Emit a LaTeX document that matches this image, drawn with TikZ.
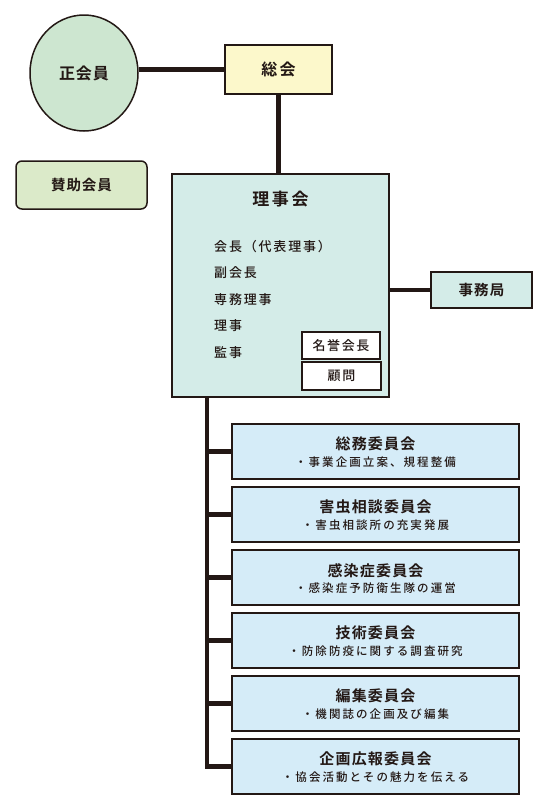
\documentclass[tikz,border=0pt]{standalone}
\usepackage{fontspec}
\setmainfont{Noto Sans CJK JP}[BoldFont={Noto Sans CJK JP Bold}]
\newfontfamily\jpmed{Noto Sans CJK JP Medium}
\usetikzlibrary{shapes.geometric}
\newcommand{\jt}[3]{\fontsize{#1}{#1}\selectfont\addfontfeatures{LetterSpace=#2}#3}
\definecolor{ink}{HTML}{231815}
\definecolor{ellgreen}{HTML}{CDE6D0}
\definecolor{yel}{HTML}{FCF8CB}
\definecolor{sgreen}{HTML}{DBEAC9}
\definecolor{teal}{HTML}{D4ECE8}
\definecolor{cblue}{HTML}{D5ECF8}
\tikzset{
  box/.style={draw=ink, line width=1.5pt, inner sep=0pt, text=ink},
  conn/.style={draw=ink, line width=4.5pt},
  trunk/.style={draw=ink, line width=4.5pt},
  cbox/.style={box, fill=cblue, minimum width=287pt, minimum height=55pt},
  ctitle/.style={inner sep=0pt, text=ink, font=\bfseries},
  csub/.style={inner sep=0pt, text=ink, font=\jpmed},
  mem/.style={inner sep=0pt, anchor=west, text=ink, font=\jpmed},
}
\begin{document}
\begin{tikzpicture}[x=1pt,y=-1pt]
\useasboundingbox (0,0) rectangle (550,806);
% top
\node[box, ellipse, fill=ellgreen, minimum width=108pt, minimum height=116pt, font=\bfseries] (seikai) at (84,73) {\jt{16}{5}{正会員}};
\node[box, fill=yel, minimum width=107pt, minimum height=49pt, font=\bfseries] (soukai) at (278.5,69.5) {\jt{16}{15}{総会}};
\node[box, fill=sgreen, rounded corners=6pt, minimum width=131pt, minimum height=48pt, font=\bfseries] (sanjo) at (81.5,185) {\jt{14.5}{6}{賛助会員}};
\node[box, fill=teal, minimum width=217pt, minimum height=223pt] (riji) at (280.5,285.5) {};
\node[ctitle] (rijit) at ([yshift=-26pt]riji.north) {\jt{17}{16}{理事会}};
\node[mem] (m1) at (214,247) {\jt{13}{14}{会長（代表理事）}};
\node[mem] (m2) at (214,273) {\jt{13}{14}{副会長}};
\node[mem] (m3) at (214,300) {\jt{13}{14}{専務理事}};
\node[mem] (m4) at (214,326) {\jt{13}{14}{理事}};
\node[mem] (m5) at (214,353) {\jt{13}{14}{監事}};
\node[box, fill=white, minimum width=78pt, minimum height=27pt, font=\jpmed] (meiyo) at (341,345.5) {\jt{13}{12}{名誉会長}};
\node[box, fill=white, minimum width=79pt, minimum height=28pt, font=\jpmed] (komon) at (341.5,376) {\jt{13}{12}{顧問}};
\node[box, fill=teal, minimum width=101pt, minimum height=36pt, font=\bfseries] (jimu) at (481.5,290) {\jt{14.5}{7}{事務局}};
% connectors top
\draw[conn] (soukai.west) -- (seikai.east |- soukai.west);
\draw[conn] (soukai.south) -- (soukai.south |- riji.north);
\draw[conn] (jimu.west) -- (riji.east |- jimu.west);
% committees
\node[cbox] (c1) at (375.5,451.5) {};
\node[cbox] (c2) at (375.5,514.5) {};
\node[cbox] (c3) at (375.5,577.5) {};
\node[cbox] (c4) at (375.5,640.5) {};
\node[cbox] (c5) at (375.5,703.5) {};
\node[cbox] (c6) at (375.5,766.5) {};
\foreach \c/\t/\s in {c1/総務委員会/・事業企画立案、規程整備,
                      c2/害虫相談委員会/・害虫相談所の充実発展,
                      c3/感染症委員会/・感染症予防衛生隊の運営,
                      c4/技術委員会/・防除防疫に関する調査研究,
                      c5/編集委員会/・機関誌の企画及び編集,
                      c6/企画広報委員会/・協会活動とその魅力を伝える}{
  \node[ctitle] (\c t) at ([yshift=-21pt]\c.north) {\jt{15}{8}{\t}};
  \node[csub] (\c s) at ([yshift=-39pt]\c.north) {\jt{11.5}{18}{\s}};
}
\coordinate (t0) at (207,397);
\draw[trunk] ([yshift=1pt]t0) |- (c6.west);
\foreach \c in {c1,c2,c3,c4,c5}{
  \draw[conn] (t0 |- \c.west) -- (\c.west);
}
\end{tikzpicture}
\end{document}
